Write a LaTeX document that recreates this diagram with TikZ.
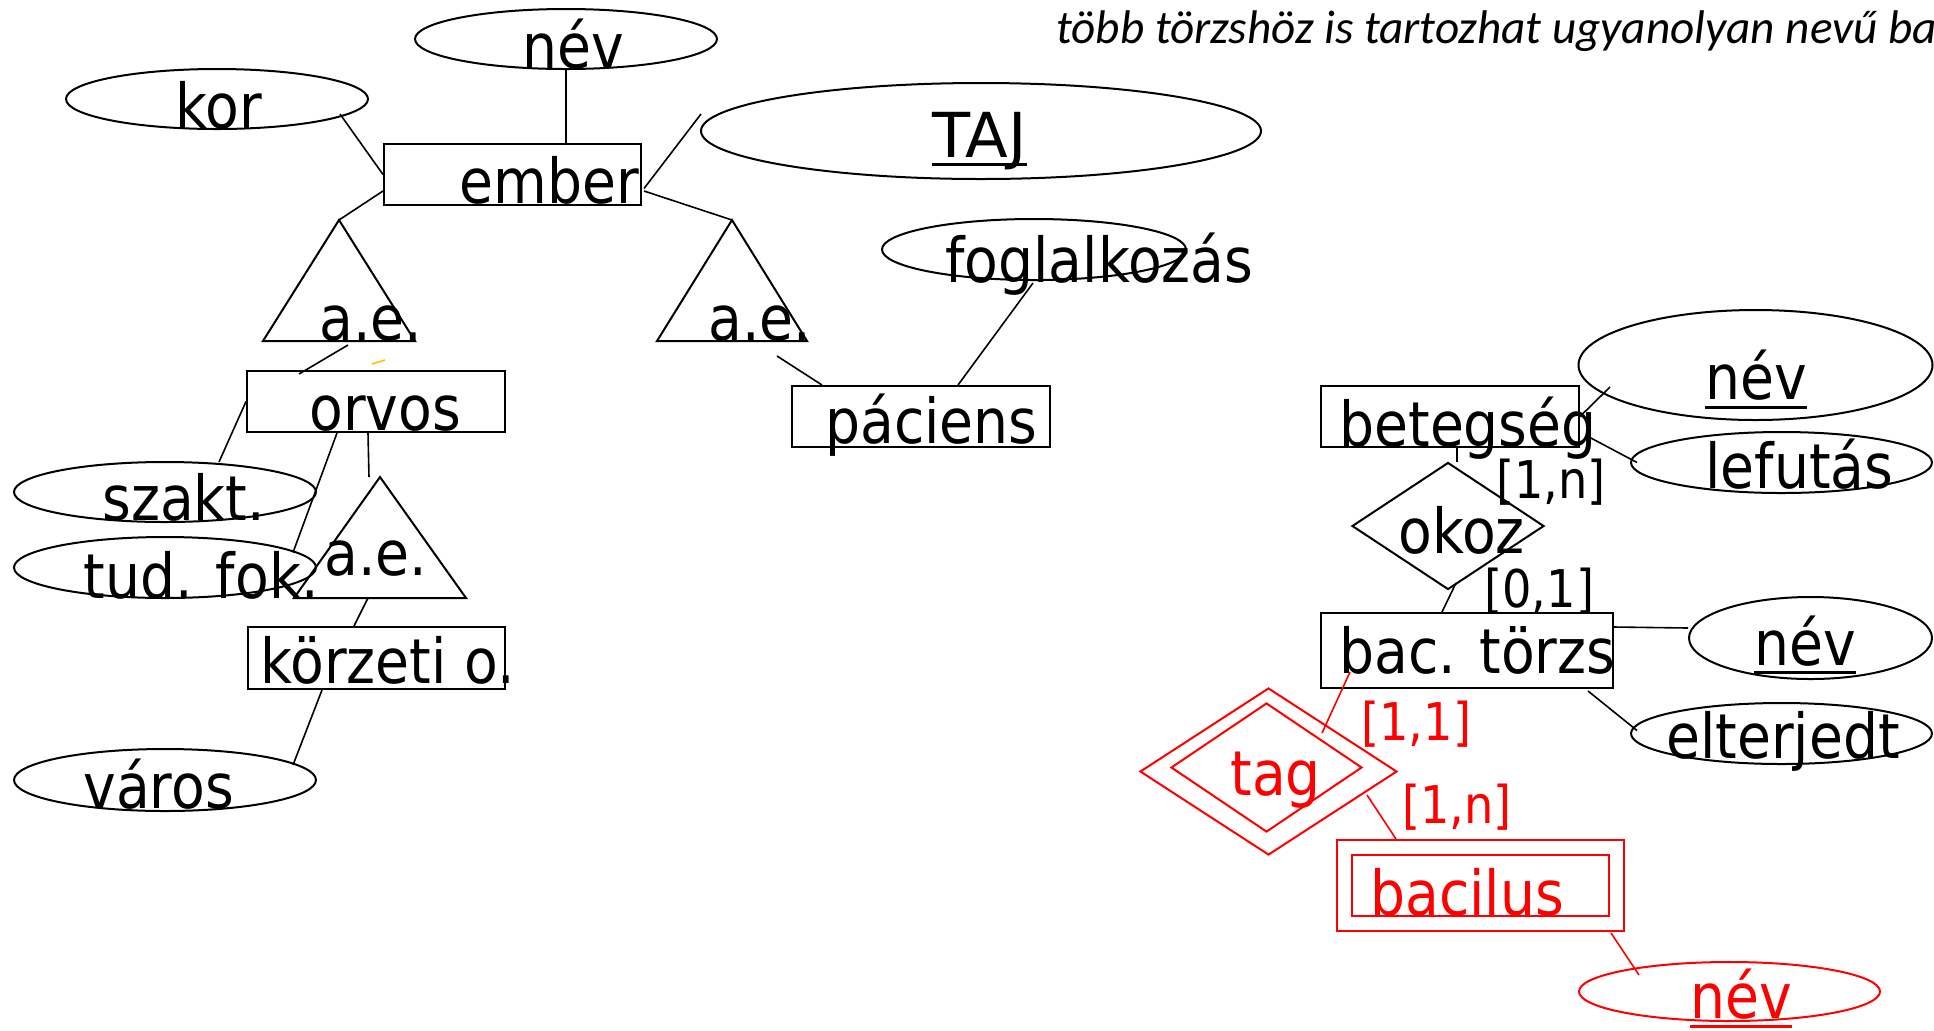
\documentclass[tikz,border=0pt]{standalone}
\usepackage{fontspec}
\setmainfont{DejaVu Sans}[FakeStretch=0.89]
\newfontfamily\notefont{Carlito}
\usetikzlibrary{shapes.geometric,calc}
\tikzset{
  ent/.style={draw, rectangle, line width=1pt, inner sep=0pt},
  attr/.style={draw, ellipse, line width=1pt, inner sep=0pt},
  rel/.style={draw, diamond, line width=1pt, inner sep=0pt},
  tri/.style={line width=1pt},
  conn/.style={line width=0.8pt},
  lbl/.style={inner sep=0pt, anchor=base west, font=\fontsize{31pt}{31pt}\selectfont},
  card/.style={inner sep=0pt, anchor=base west, font=\fontsize{26pt}{26pt}\selectfont},
  note/.style={inner sep=0pt, anchor=base west, font=\notefont\itshape\fontsize{23.6pt}{23.6pt}\selectfont},
  uline/.style={line width=1.5pt},
}
\begin{document}
\begin{tikzpicture}[x=0.5pt,y=-0.5pt]
\useasboundingbox (0,0) rectangle (1934,1030);

% ---------- shapes: left part ----------
\node[attr, minimum width=151pt, minimum height=30pt] (nev1) at (566,39) {};
\node[attr, minimum width=151pt, minimum height=30pt] (kor) at (217,99) {};
\node[ent, minimum width=128.5pt, minimum height=30.5pt] (ember) at (512.5,174.5) {};
\node[attr, minimum width=280pt, minimum height=48pt] (TAJ) at (981,131) {};
\node[attr, minimum width=152pt, minimum height=30.5pt] (fogl) at (1034,249.5) {};
\node[ent, minimum width=129pt, minimum height=30.5pt] (orvos) at (376,401.5) {};
\node[ent, minimum width=129pt, minimum height=30.5pt] (pac) at (921,416.5) {};
\node[attr, minimum width=151pt, minimum height=30pt] (szakt) at (165,492) {};
\node[attr, minimum width=151pt, minimum height=30.5pt] (tudfok) at (165,567.5) {};
\node[ent, minimum width=128.5pt, minimum height=31pt] (korz) at (376.5,658) {};
\node[attr, minimum width=151pt, minimum height=31pt] (varos) at (165,780) {};

\coordinate (triL) at (339,220);
\coordinate (triLb) at (339,341);
\draw[tri] (triL) -- (263,341) -- (415,341) -- cycle;
\coordinate (triR) at (732,220);
\coordinate (triRb) at (732,341);
\draw[tri] (triR) -- (657,341) -- (807,341) -- cycle;
\coordinate (triO) at (380,477);
\coordinate (triOb) at (380,598);
\draw[tri] (triO) -- (294,598) -- (466,598) -- cycle;

% ---------- shapes: right part ----------
\node[ent, minimum width=129pt, minimum height=30.5pt] (beteg) at (1450,416.5) {};
\node[attr, minimum width=177pt, minimum height=55pt] (nev2) at (1755.5,365) {};
\node[attr, minimum width=150.5pt, minimum height=30.5pt] (lefut) at (1781.5,462.5) {};
\node[rel, minimum width=96pt, minimum height=63.5pt] (okoz) at (1448,526) {};
\node[ent, minimum width=146pt, minimum height=37.5pt] (bac) at (1467,650.5) {};
\node[attr, minimum width=121.5pt, minimum height=41pt] (nev3) at (1810.5,638) {};
\node[attr, minimum width=150.5pt, minimum height=30.5pt] (elterj) at (1781.5,733.5) {};

\begin{scope}[red]
\node[rel, minimum width=128.5pt, minimum height=83.5pt] (tagO) at (1268.5,771.5) {};
\node[rel, minimum width=95.5pt, minimum height=64.5pt] (tagI) at (1266.5,767.5) {};
\node[ent, minimum width=143.5pt, minimum height=45.5pt] (bacO) at (1480.5,885.5) {};
\node[ent, minimum width=128.5pt, minimum height=30.5pt] (bacI) at (1480.5,885.5) {};
\node[attr, minimum width=150.5pt, minimum height=29.5pt] (nev4) at (1729.5,991.5) {};
\end{scope}

% ---------- texts ----------
\node[lbl] (t-nev1) at (522,68) {név};
\node[lbl] (t-kor) at (175,128) {kor};
\node[lbl] (t-ember) at (459,203) {ember};
\node[lbl] (t-TAJ) at (932,157) {\scalebox{1.13}[1]{TAJ}};
\node[lbl] (t-aeL) at (319,340) {a.e.};
\node[lbl] (t-aeR) at (708,340) {a.e.};
\node[lbl] (t-fogl) at (945,282) {foglalkozás};
\node[lbl] (t-orvos) at (309,430) {orvos};
\node[lbl] (t-pac) at (825,443) {páciens};
\node[lbl] (t-szakt) at (102,520) {szakt.};
\node[lbl] (t-tudfok) at (83,598) {tud. fok.};
\node[lbl] (t-aeO) at (324,575) {a.e.};
\node[lbl] (t-korz) at (260,683) {körzeti o.};
\node[lbl] (t-varos) at (83,808) {város};
\node[lbl] (t-beteg) at (1339,446) {betegség};
\node[lbl] (t-nev2) at (1705,399) {név};
\node[lbl] (t-lefut) at (1705,488) {lefutás};
\node[lbl] (t-okoz) at (1398,553) {okoz};
\node[card] (c-1n) at (1496,498) {[1,n]};
\node[card] (c-01) at (1484,607) {[0,1]};
\node[lbl] (t-bac) at (1339,673) {bac. törzs};
\node[lbl] (t-nev3) at (1754,665) {név};
\node[lbl] (t-elterj) at (1666,758) {elterjedt};
\begin{scope}[red]
\node[lbl, text=red] (t-tag) at (1230,795) {tag};
\node[card, text=red] (c-11) at (1361,740) {[1,1]};
\node[card, text=red] (c-1nr) at (1402,823) {[1,n]};
\node[lbl, text=red] (t-bacil) at (1370,915) {bacilus};
\node[lbl, text=red] (t-nev4) at (1690,1018) {név};
\end{scope}
\begin{scope}
\clip (0,0) rectangle (1934,1030);
\node[note] (t-note) at (1056,43) {több törzshöz is tartozhat ugyanolyan nevű bacilus};
\end{scope}

% underlines of key attributes
\draw[uline] ($(t-TAJ.base west)+(0,7)$) -- ($(t-TAJ.base east)+(0,7)$);
\draw[uline] ($(t-nev2.base west)+(0,8)$) -- ($(t-nev2.base east)+(0,8)$);
\draw[uline] ($(t-nev3.base west)+(0,7)$) -- ($(t-nev3.base east)+(0,7)$);
\draw[uline, red] ($(t-nev4.base west)+(0,8)$) -- ($(t-nev4.base east)+(0,8)$);

% ---------- connectors ----------
\draw[conn] ($(kor.center)+(123,15)$) -- (ember.west);
\draw[conn] (nev1.south) -- (nev1.south |- ember.north);
\draw[conn] ($(TAJ.center)+(-280,-17)$) -- ($(ember.east)+(2,14)$);
\draw[conn] ($(ember.south west)+(0,-15)$) -- (triL);
\draw[conn] ($(ember.south east)+(2,-15)$) -- (triR);
\draw[conn] ($(triLb)+(9,4)$) -- ($(orvos.north west)+(53,4)$);
\draw[conn] ($(triRb)+(45,15)$) -- ($(pac.north west)+(31,0)$);
\draw[conn] ($(fogl.south)+(-1,2)$) -- ($(pac.north west)+(167,0)$);
\draw[conn] (orvos.west) -- ($(szakt.center)+(54,-30)$);
\draw[conn] ($(orvos.south west)+(91,0)$) -- ($(tudfok.center)+(128,-15)$);
\draw[conn] ($(orvos.south west)+(122,0)$) -- ($(triO)+(-11,0)$);
\draw[conn] ($(triOb)+(-12,0)$) -- ($(korz.north west)+(107,0)$);
\draw[conn] ($(korz.south west)+(75,0)$) -- ($(varos.center)+(128,-15)$);
\draw[conn] ($(nev2.center)+(-145.5,22)$) -- (beteg.east);
\draw[conn] ($(beteg.east)+(9,20.5)$) -- ($(lefut.west)+(7,0)$);
\draw[conn] ($(beteg.south)+(7,0)$) -- ($(okoz.north)+(9,0)$);
\draw[conn] ($(okoz.center)+(8,57)$) -- ($(bac.north west)+(122,0)$);
\draw[conn] ($(bac.north east)+(0,15)$) -- ($(nev3.west)+(0,-10)$);
\draw[conn] ($(bac.south east)+(-26,2)$) -- ($(elterj.west)+(7,-3)$);
\draw[conn, red] ($(bac.north west)+(30,60)$) -- ($(tagO.center)+(53.5,-38.5)$);
\draw[conn, red] ($(tagO.center)+(98.5,23.5)$) -- ($(bacO.north west)+(60,0)$);
\draw[conn, red] ($(bacO.south east)+(-14,1)$) -- ($(nev4.center)+(-90.5,-16.5)$);

% small yellow stroke
\coordinate (ym1) at (372,364);
\coordinate (ym2) at (385,360);
\draw[line width=0.8pt, color={rgb,255:red,255;green,192;blue,0}] (ym1) -- (ym2);
\end{tikzpicture}
\end{document}
